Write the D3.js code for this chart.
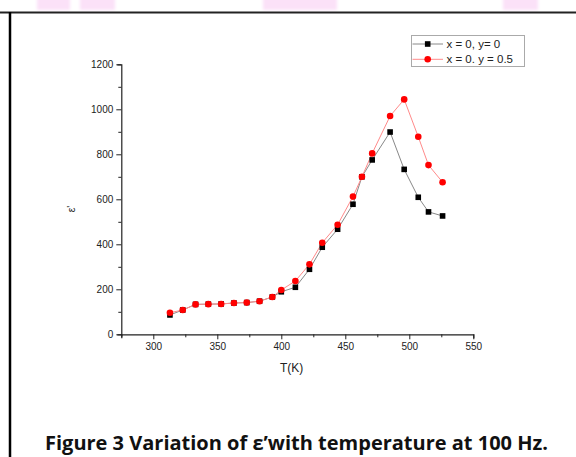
<!DOCTYPE html>
<html>
<head>
<meta charset="utf-8">
<script src="https://cdn.jsdelivr.net/npm/d3@7"></script>
<style>
  body { margin: 0; background: #fff; }
  svg { display: block; }
  .tick text { font-family: "Liberation Sans", Arial, sans-serif; font-size: 10px; fill: #222; }
</style>
</head>
<body>
<div id="chart"></div>
<script>
// temperatures (K)
const temps = [313, 323, 333, 343, 353, 363, 373, 383, 393, 400, 411, 422, 432, 444, 456, 463, 471, 485, 496, 507, 515, 526];
const epsX0Y0 = [86, 108, 133, 134, 135, 139, 141, 147, 166, 189, 209, 289, 387, 467, 578, 700, 775, 899, 733, 609, 544, 526];
const epsX0Y05 = [96, 108, 133, 134, 135, 139, 141, 147, 166, 197, 237, 311, 407, 487, 612, 700, 804, 970, 1044, 878, 752, 676];
const seriesNames = ["x = 0, y= 0", "x = 0. y = 0.5"];
const xTicks = [300, 350, 400, 450, 500, 550];
const yTicks = [0, 200, 400, 600, 800, 1000, 1200];
const caption = "Figure 3 Variation of \u03b5\u2019with temperature at 100 Hz.";

const width = 576, height = 457;
const svg = d3.select("#chart").append("svg").attr("width", width).attr("height", height);

const defs = svg.append("defs");
defs.append("filter").attr("id", "soft").append("feGaussianBlur").attr("stdDeviation", 1.5);

// faint pink bits of the page above (cut highlight)
[[37, 33], [80, 35], [263, 74], [503, 35]].forEach(([x, w]) => {
  svg.append("rect").attr("x", x).attr("y", -3).attr("width", w).attr("height", 13)
    .attr("fill", "#fbe1f8").attr("filter", "url(#soft)");
});

// page frame lines
svg.append("line").attr("x1", 0).attr("x2", width).attr("y1", 12.5).attr("y2", 12.5)
  .attr("stroke", "#222").attr("stroke-width", 2);
svg.append("line").attr("x1", 10).attr("x2", 10).attr("y1", 12).attr("y2", height)
  .attr("stroke", "#000").attr("stroke-width", 2.5);

const x = d3.scaleLinear().domain([275, 550]).range([121.3, 473.3]);
const y = d3.scaleLinear().domain([0, 1200]).range([334.3, 64.3]);

const xAxis = svg.append("g").attr("transform", `translate(0,${y(0)})`)
  .call(d3.axisBottom(x).tickValues(d3.range(275, 551, 25)).tickSizeOuter(0).tickSize(4)
    .tickFormat(d => xTicks.includes(d) ? d : ""));
xAxis.selectAll(".tick line").attr("y2", d => xTicks.includes(d) ? 5 : 3);
const yAxis = svg.append("g").attr("transform", `translate(${x(275)},0)`)
  .call(d3.axisLeft(y).tickValues(d3.range(0, 1201, 100)).tickSizeOuter(0).tickSize(4)
    .tickFormat(d => yTicks.includes(d) ? d : ""));
yAxis.selectAll(".tick line").attr("x2", d => yTicks.includes(d) ? -5 : -3);
[xAxis, yAxis].forEach(a => {
  a.select(".domain").attr("stroke", "#222").attr("stroke-width", 1.2);
  a.selectAll(".tick line").attr("stroke", "#222");
});
xAxis.selectAll(".tick text").attr("dy", "1.0em").attr("y", 6);
yAxis.selectAll(".tick text").attr("x", -8);

// axis titles
svg.append("text").attr("x", x(408)).attr("y", 372).attr("text-anchor", "middle")
  .attr("font-family", "Liberation Sans, Arial, sans-serif").attr("font-size", 12).attr("fill", "#222")
  .text("T(K)");
svg.append("text").attr("transform", "translate(75,209) rotate(-90)").attr("text-anchor", "middle")
  .attr("font-family", "Liberation Sans, Arial, sans-serif").attr("font-size", 10.5).attr("fill", "#222")
  .text("\u03b5'");

const line = d3.line().x(d => x(d[0])).y(d => y(d[1]));
const s1 = temps.map((t, i) => [t, epsX0Y0[i]]);
const s2 = temps.map((t, i) => [t, epsX0Y05[i]]);

svg.append("path").datum(s1).attr("d", line).attr("fill", "none").attr("stroke", "#888").attr("stroke-width", 1);
svg.append("path").datum(s2).attr("d", line).attr("fill", "none").attr("stroke", "#ff8a8a").attr("stroke-width", 1);

svg.append("g").selectAll("rect").data(s1).join("rect")
  .attr("x", d => x(d[0]) - 2.8).attr("y", d => y(d[1]) - 2.8)
  .attr("width", 5.6).attr("height", 5.6).attr("fill", "#000");
svg.append("g").selectAll("circle").data(s2).join("circle")
  .attr("cx", d => x(d[0])).attr("cy", d => y(d[1])).attr("r", 3.3).attr("fill", "#ff0000");

// legend
const lg = svg.append("g");
lg.append("rect").attr("x", 411.5).attr("y", 35.5).attr("width", 113).attr("height", 31)
  .attr("fill", "#fff").attr("stroke", "#aaa").attr("stroke-width", 1);
seriesNames.forEach((name, i) => {
  const cy = 44 + i * 15.3;
  lg.append("line").attr("x1", 412.5).attr("x2", 443).attr("y1", cy).attr("y2", cy)
    .attr("stroke", i === 0 ? "#888" : "#ff8a8a").attr("stroke-width", 1);
  if (i === 0) {
    lg.append("rect").attr("x", 427.7 - 2.8).attr("y", cy - 2.8).attr("width", 5.6).attr("height", 5.6).attr("fill", "#000");
  } else {
    lg.append("circle").attr("cx", 427.7).attr("cy", cy).attr("r", 3.3).attr("fill", "#ff0000");
  }
  lg.append("text").attr("x", 446.5).attr("y", cy + 4)
    .attr("font-family", "Liberation Sans, Arial, sans-serif").attr("font-size", 11.5).attr("fill", "#222")
    .text(name);
});

// caption
svg.append("text").attr("x", 45).attr("y", 450)
  .attr("font-family", "Open Sans, sans-serif").attr("font-weight", "bold").attr("font-size", 19).attr("fill", "#111")
  .attr("textLength", 503).attr("lengthAdjust", "spacingAndGlyphs")
  .text(caption);
</script>
</body>
</html>
